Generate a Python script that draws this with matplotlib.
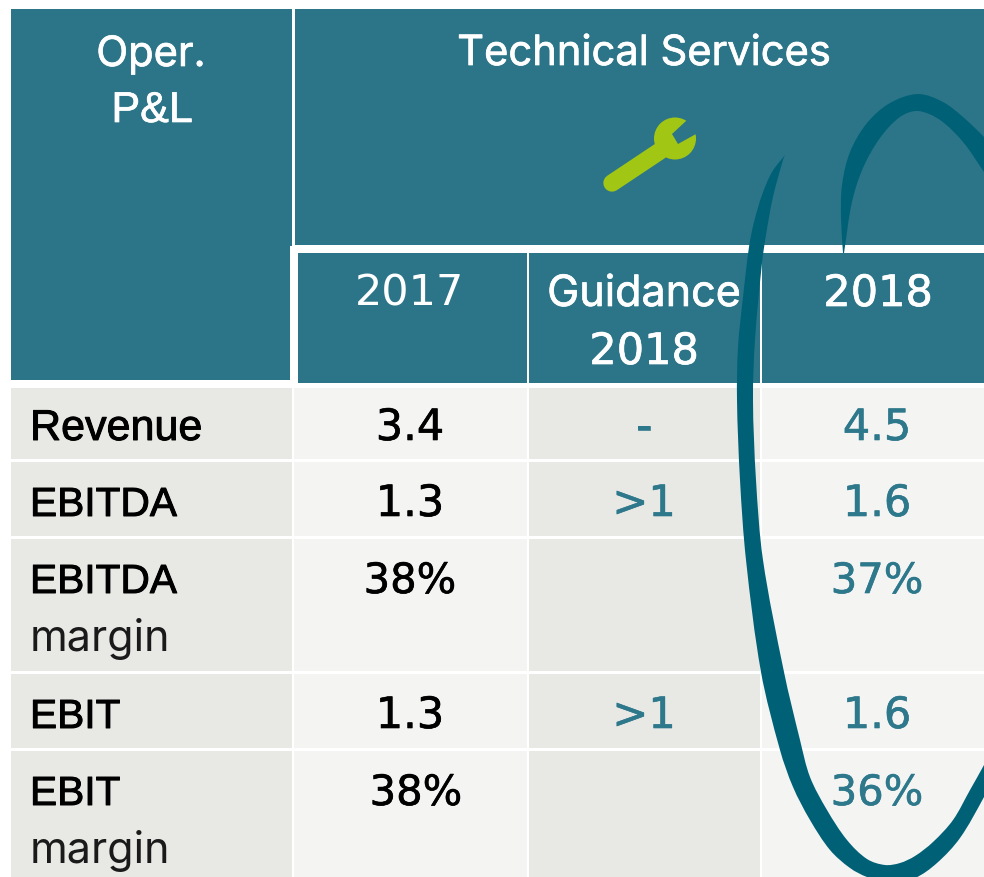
import matplotlib
matplotlib.use("Agg")
import matplotlib.pyplot as plt
from matplotlib.patches import Rectangle, PathPatch, Circle, Polygon
from matplotlib.path import Path
import matplotlib.patheffects as pe

plt.rcParams['font.family'] = ['Inter', 'DejaVu Sans']

TEAL = '#2C7589'; SWOOSH = '#006176'; GREEN = '#A2C614'; TXT = '#2E788C'
LIGHT = '#E8E9E5'; PALE = '#F4F4F3'; BLACK = '#000000'
FS = 30
NUM = ['DejaVu Sans']
LAB = ['Liberation Sans']

row_labels = [['Revenue'], ['EBITDA'], ['EBITDA', 'margin'], ['EBIT'], ['EBIT', 'margin']]
vals_2017 = ['3.4', '1.3', '38%', '1.3', '38%']
vals_guid = ['-', '>1', '', '>1', '']
vals_2018 = ['4.5', '1.6', '37%', '1.6', '36%']
col_heads = [['2017'], ['Guidance', '2018'], ['2018']]

row_tops = [388, 462, 539, 674, 751]
row_bots = [459, 536, 671, 748, 877]
row_base = [440, 516, 593, 728, 805]
col_edges = [(11, 292), (294, 527), (529, 760), (762, 984)]
col_fill = [LIGHT, PALE, LIGHT, PALE]
col_cx = [410, 644, 877]
x_2017 = [410, 410, 410, 410, 416]

fig = plt.figure(figsize=(9.84, 8.77), dpi=100, facecolor='white')
ax = fig.add_axes([0, 0, 1, 1])
ax.set_xlim(0, 984); ax.set_ylim(877, 0); ax.axis('off')


def box(x0, y0, x1, y1, c, z=1):
    ax.add_patch(Rectangle((x0, y0), x1 - x0, y1 - y0, fc=c, ec='none', zorder=z))


def smooth(points):
    """Chord-length Catmull-Rom through the points, as cubic Bezier pieces."""
    n = len(points)
    d = [((points[i + 1][0] - points[i][0]) ** 2 + (points[i + 1][1] - points[i][1]) ** 2) ** .5
         for i in range(n - 1)]
    tang = []
    for i in range(n):
        a = points[max(i - 1, 0)]; b = points[min(i + 1, n - 1)]
        span = sum(d[max(i - 1, 0):min(i + 1, n - 1)])
        tang.append(((b[0] - a[0]) / span, (b[1] - a[1]) / span))
    verts = [points[0]]; codes = [Path.MOVETO]
    for i in range(n - 1):
        h = d[i] / 3
        p1, p2 = points[i], points[i + 1]
        verts += [(p1[0] + tang[i][0] * h, p1[1] + tang[i][1] * h),
                  (p2[0] - tang[i + 1][0] * h, p2[1] - tang[i + 1][1] * h), p2]
        codes += [Path.CURVE4] * 3
    return verts, codes


def blade(edge_a, edge_b):
    va, ca = smooth(edge_a)
    vb, cb = smooth(edge_b)
    return PathPatch(Path(va + vb + [va[0]], ca + [Path.LINETO] + cb[1:] + [Path.CLOSEPOLY]),
                     fc=SWOOSH, ec='none', zorder=6)


# table cells
for (x0, x1), c in zip(col_edges, col_fill):
    for t, b in zip(row_tops, row_bots):
        box(x0, t, x1, b, c)

# headers
box(11, 9, 292, 246, TEAL)
box(11, 246, 290, 380, TEAL)
box(295, 9, 984, 245, TEAL)
box(298, 253, 527, 383, TEAL)
box(529, 253, 760, 383, TEAL)
box(762, 253, 984, 383, TEAL)


def put(x, y, s, c, **kw):
    ax.text(x, y, s, color=c, fontsize=kw.pop('fs', FS), ha=kw.pop('ha', 'center'),
            va='baseline', zorder=5, **kw)


heavy = [pe.withStroke(linewidth=0.7, foreground=BLACK)]
thick = [pe.withStroke(linewidth=0.45, foreground=BLACK)]
thick_teal = [pe.withStroke(linewidth=0.45, foreground=TXT)]
white_heavy = [pe.withStroke(linewidth=0.5, foreground='white')]

put(151, 66, 'Oper.', 'white', path_effects=white_heavy)
put(152, 122, 'P&L', 'white', family=LAB, fs=31, path_effects=white_heavy)
put(644, 65, 'Technical Services', 'white', path_effects=white_heavy)
put(410, 306, col_heads[0][0], 'white', family=NUM, fs=31)
put(644, 306, col_heads[1][0], 'white', fs=31, path_effects=white_heavy)
put(644, 364, col_heads[1][1], 'white', family=NUM, fs=31, path_effects=white_heavy)
put(878, 306, col_heads[2][0], 'white', family=NUM, fs=31, path_effects=white_heavy)

for lab, b, x17, a, g, c in zip(row_labels, row_base, x_2017, vals_2017, vals_guid, vals_2018):
    size = 31 if lab[0] == 'Revenue' else 29.3
    put(30, b, lab[0], BLACK, ha='left', family=LAB, fs=size, path_effects=heavy)
    if len(lab) > 1:
        put(30, b + 58, lab[1], '#1A1A1A', ha='left', fs=31)
    put(x17, b, a, BLACK, family=NUM, fs=30 if '%' in a else 31, path_effects=thick)
    put(col_cx[1], b, g, TXT, family=NUM, fs=31, path_effects=thick_teal)
    put(col_cx[2], b, c, TXT, family=NUM, fs=30 if '%' in c else 31, path_effects=thick_teal)

# wrench icon
ax.plot([612, 660], [183, 151], color=GREEN, lw=12.5, solid_capstyle='round', zorder=4)
ax.add_patch(Circle((675, 138.5), 21, fc=GREEN, ec='none', zorder=4))
ax.add_patch(Polygon([(686, 121), (672, 134), (678, 144), (696, 134), (702, 116)],
                     fc=TEAL, ec='none', zorder=4))

# hand-drawn ring: left and bottom stroke
outer = [(785, 155), (772, 172), (762, 195), (754, 222), (749, 247), (743, 297), (738, 347),
         (737, 400), (740, 480), (746, 560), (761, 672), (780, 750), (793, 787), (810, 820),
         (830, 850), (850, 868), (867, 877), (890, 883), (915, 878), (937, 863), (960, 838),
         (984, 797), (1000, 765)]
inner = [(1000, 735), (984, 765), (970, 790), (953, 820), (933, 842), (915, 856), (900, 863),
         (885, 865), (867, 859), (847, 840), (827, 810), (810, 777), (800, 740), (784, 672),
         (763, 560), (756, 480), (753, 400), (755, 340), (762, 263), (766, 235), (773, 197),
         (783, 160), (785, 155)]
ax.add_patch(blade(outer, inner))

# ring: upper arc
arc_out = [(843, 253), (841, 218), (842, 185), (850, 152), (867, 123), (890, 103), (918, 94),
           (943, 102), (963, 117), (984, 137), (1000, 155)]
arc_in = [(1000, 195), (984, 172), (963, 142), (940, 120), (918, 111), (900, 117), (880, 138),
          (863, 168), (852, 202), (844, 253)]
ax.add_patch(blade(arc_out, arc_in))

fig.savefig('out.png', dpi=100, facecolor='white')
